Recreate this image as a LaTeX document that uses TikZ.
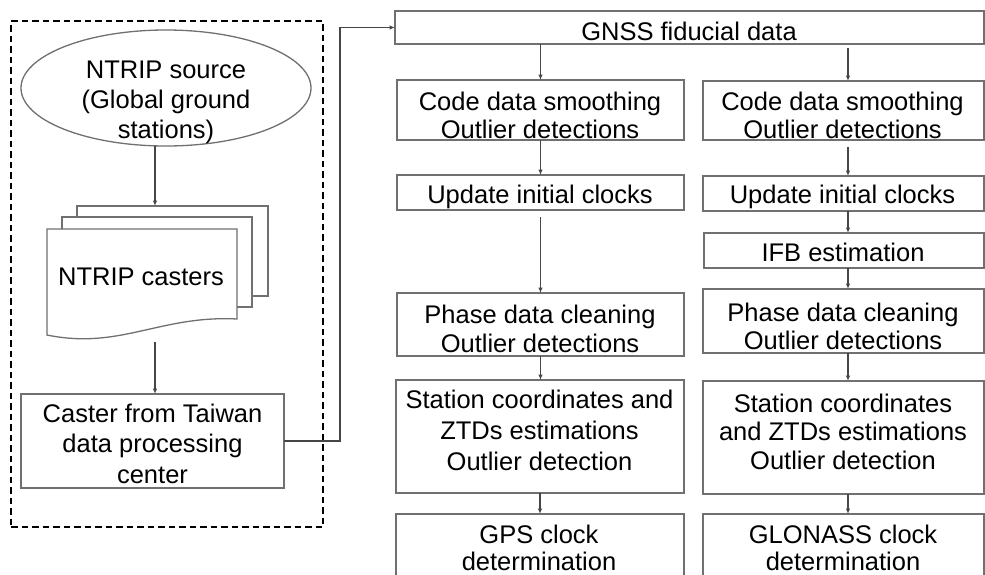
\documentclass[tikz,border=0pt]{standalone}
\usepackage{fontspec}
\setmainfont{Liberation Sans}
\usetikzlibrary{arrows.meta,calc,shapes.geometric}
\definecolor{boxline}{RGB}{112,112,112}
\definecolor{arrline}{RGB}{70,70,70}
\newcommand{\ml}[1]{\begin{tabular}[t]{@{}c@{}}#1\end{tabular}}
\begin{document}
\begin{tikzpicture}[x=1pt,y=-1pt,
  box/.style={draw=boxline,line width=1.3pt,fill=white,inner sep=0pt,outer sep=0pt},
  txt/.style={anchor=base,inner sep=0pt,font=\fontsize{25.5pt}{#1}\selectfont},
  txt/.default=30pt,
  arr/.style={draw=arrline,line width=1.1pt,-{Latex[length=5.5pt,width=4.5pt]}}]
\useasboundingbox (0,0) rectangle (985,574);
% left dashed frame
\node[draw=black,line width=1.8pt,dash pattern=on 6.5pt off 4pt,minimum width=312pt,minimum height=506pt,inner sep=0pt] (frame) at (167,274) {};
% NTRIP source
\node[box,ellipse,minimum width=290pt,minimum height=116pt] (src) at (166,88) {};
\node[txt=30pt] (srct) at (166,78) {\ml{NTRIP source\\(Global ground\\stations)}};
% NTRIP casters (stack of documents)
\node[box,minimum width=191pt,minimum height=90pt] (back) at (172.5,251) {};
\node[box,minimum width=190pt,minimum height=90pt] (mid) at (157,262) {};
\draw[draw=boxline,line width=1.3pt,fill=white] (47,229) coordinate (fronttl) -- (237,229) -- (237,319)
   .. controls (160,315) and (120,350) .. (47,335) -- cycle;
\node[txt] (castt) at (141,285) {NTRIP casters};
\coordinate (dn) at (155,342);
% caster from Taiwan
\node[box,minimum width=263pt,minimum height=94pt] (caster) at (152.5,441) {};
\node[txt=30.5pt] (castert) at (152.5,422) {\ml{Caster from Taiwan\\data processing\\center}};
% right part
\node[box,minimum width=589pt,minimum height=33pt] (gnss) at (689.5,27.5) {};
\node[txt] (gnsst) at (689,40) {GNSS fiducial data};
\node[box,minimum width=287pt,minimum height=60pt] (code1) at (540.5,110) {};
\node[txt=28pt] (code1t) at (540,110) {\ml{Code data smoothing\\Outlier detections}};
\node[box,minimum width=281pt,minimum height=59pt] (code2) at (843.5,110.5) {};
\node[txt=28pt] (code2t) at (842.5,110) {\ml{Code data smoothing\\Outlier detections}};
\node[box,minimum width=287pt,minimum height=35pt] (upd1) at (540.5,192.5) {};
\node[txt] (upd1t) at (540,203) {Update initial clocks};
\node[box,minimum width=281pt,minimum height=35pt] (upd2) at (843.5,193.5) {};
\node[txt] (upd2t) at (842.5,203) {Update initial clocks};
\node[box,minimum width=280pt,minimum height=35pt] (ifb) at (844,250.5) {};
\node[txt] (ifbt) at (843,261) {IFB estimation};
\node[box,minimum width=287pt,minimum height=63pt] (ph1) at (540.5,324.5) {};
\node[txt=29pt] (ph1t) at (540,323) {\ml{Phase data cleaning\\Outlier detections}};
\node[box,minimum width=281pt,minimum height=64pt] (ph2) at (843.5,321) {};
\node[txt=28pt] (ph2t) at (843,321) {\ml{Phase data cleaning\\Outlier detections}};
\node[box,minimum width=288pt,minimum height=113pt] (st1) at (540,436.5) {};
\node[txt=31pt] (st1t) at (539.5,408) {\ml{Station coordinates and\\ZTDs estimations\\Outlier detection}};
\node[box,minimum width=281pt,minimum height=113pt] (st2) at (843.5,437.5) {};
\node[txt=28.5pt] (st2t) at (843,412) {\ml{Station coordinates\\and ZTDs estimations\\Outlier detection}};
\node[box,minimum width=288pt,minimum height=90pt] (gps) at (540,559) {};
\node[txt=27.5pt] (gpst) at (539,543) {\ml{GPS clock\\determination}};
\node[box,minimum width=281pt,minimum height=90pt] (glo) at (843.5,559) {};
\node[txt=27.5pt] (glot) at (843,543) {\ml{GLONASS clock\\determination}};
% connectors
\draw[arr] ([xshift=-11pt]src.south) -- ([xshift=-17.5pt]back.north);
\draw[arr] (dn) -- (caster.north -| dn);
\draw[arr] (caster.east) -- ++(56,0) |- (gnss.west);
\draw[arr] (code1.north |- gnss.south) -- (code1.north);
\draw[arr] ($(code2.north |- gnss.south)+(4.5,4)$) -- ($(code2.north)+(4.5,0)$);
\draw[arr] (code1.south) -- (upd1.north -| code1.south);
\draw[arr] ($(code2.south)+(4.5,7)$) -- ($(upd2.north)+(4.5,0)$);
\draw[arr] ($(upd1.south)+(0,7)$) -- (ph1.north -| upd1.south);
\draw[arr] ($(upd2.south)+(4.5,0)$) -- ($(ifb.north -| upd2.south)+(4.5,0)$);
\draw[arr] ($(ifb.south -| upd2.south)+(4.5,0)$) -- ($(ph2.north -| upd2.south)+(4.5,0)$);
\draw[arr] (ph1.south) -- (st1.north -| ph1.south);
\draw[arr] ($(ph2.south)+(4.5,0)$) -- ($(st2.north)+(4.5,0)$);
\draw[arr] (st1.south) -- (gps.north);
\draw[arr] ($(st2.south)+(4.5,0)$) -- ($(glo.north)+(4.5,0)$);
\end{tikzpicture}
\end{document}
